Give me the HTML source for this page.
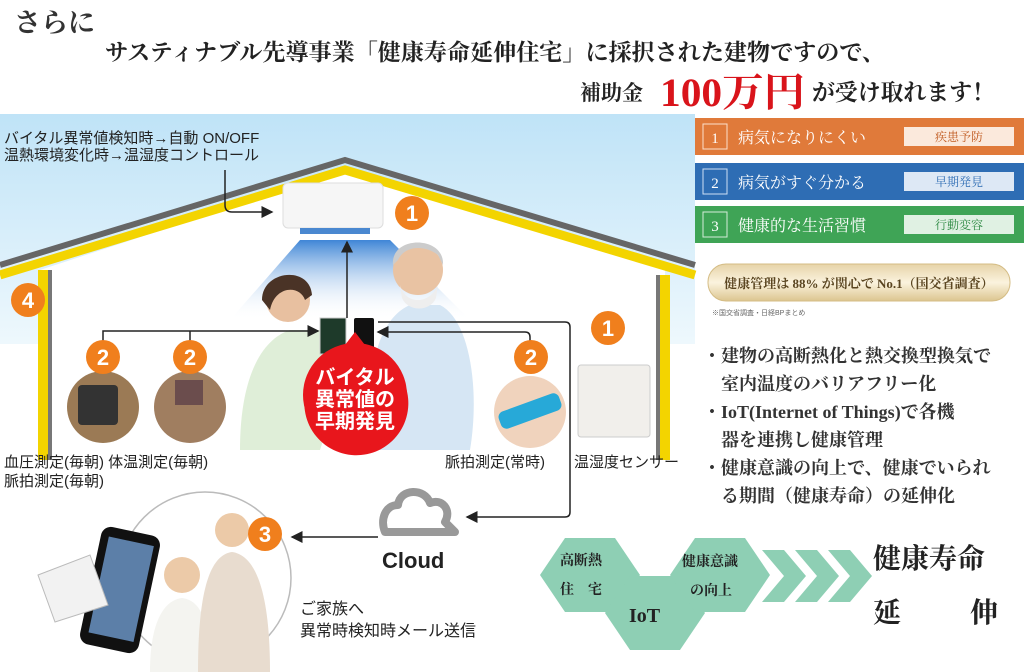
<!DOCTYPE html>
<html><head><meta charset="utf-8"><style>
html,body{margin:0;padding:0;background:#fff;}
svg{display:block;}
.s{font-family:"Liberation Serif","Noto Serif CJK SC",serif;font-weight:bold;}
.g{font-family:"Liberation Sans","Noto Sans CJK JP",sans-serif;}
</style></head><body>
<svg width="1024" height="672" viewBox="0 0 1024 672" xmlns="http://www.w3.org/2000/svg">
<defs>
<linearGradient id="sky" x1="0" y1="0" x2="0" y2="1">
<stop offset="0" stop-color="#bfe3f7"/><stop offset="1" stop-color="#eef8fd"/>
</linearGradient>
<linearGradient id="air" x1="0" y1="0" x2="0" y2="1">
<stop offset="0" stop-color="#3f86d6"/><stop offset="1" stop-color="#ffffff" stop-opacity="0"/>
</linearGradient>
<linearGradient id="gold" x1="0" y1="0" x2="0" y2="1">
<stop offset="0" stop-color="#e6d3a8"/><stop offset=".5" stop-color="#fbf3de"/><stop offset="1" stop-color="#dcc590"/>
</linearGradient>
<marker id="ar" markerWidth="8" markerHeight="8" refX="7" refY="4" orient="auto"><path d="M0,0 L8,4 L0,8z" fill="#222"/></marker>
</defs>

<!-- header -->
<text x="14" y="32" class="s" font-size="27" fill="#333">さらに</text>
<text x="105" y="60" class="s" font-size="23" fill="#222" textLength="780" lengthAdjust="spacingAndGlyphs">サスティナブル先導事業「健康寿命延伸住宅」に採択された建物ですので、</text>
<text x="580" y="100" class="s" font-size="21" fill="#222">補助金</text>
<text x="660" y="106" class="s" font-size="40" fill="#d9141b" textLength="145" lengthAdjust="spacingAndGlyphs">100万円</text>
<text x="812" y="100" class="s" font-size="23" fill="#222" textLength="183" lengthAdjust="spacingAndGlyphs">が受け取れます！</text>

<!-- sky -->
<rect x="0" y="114" width="695" height="230" fill="url(#sky)"/>
<polygon points="40,270 345,170 665,270 665,470 40,470" fill="#fff"/>
<rect x="0" y="344" width="695" height="150" fill="#fff"/>
<polygon points="300,240 390,240 470,320 230,320" fill="url(#air)"/>
<!-- roof -->
<polyline points="0,268 345,163 695,268" fill="none" stroke="#f3d400" stroke-width="9" transform="translate(0,7)"/>
<polyline points="0,265 345,160 695,265" fill="none" stroke="#666" stroke-width="6"/>
<rect x="38" y="270" width="10" height="190" fill="#f3d400"/>
<rect x="48" y="270" width="4" height="190" fill="#777"/>
<rect x="660" y="275" width="10" height="185" fill="#f3d400"/>
<rect x="656" y="275" width="4" height="185" fill="#777"/>

<text x="4" y="143" class="g" font-size="15" fill="#222">バイタル異常値検知時→自動 ON/OFF</text>
<text x="4" y="160" class="g" font-size="15" fill="#222">温熱環境変化時→温湿度コントロール</text>
<path d="M225,170 V205 Q225,212 232,212 H272" fill="none" stroke="#222" stroke-width="1.5" marker-end="url(#ar)"/>

<rect x="283" y="183" width="100" height="45" rx="5" fill="#f6f6f6" stroke="#ddd"/>
<rect x="300" y="228" width="70" height="6" fill="#4a88d0"/>

<!-- people -->
<path d="M240,450 C240,380 260,340 290,330 L330,330 C340,360 330,420 320,450z" fill="#dfeed8"/>
<circle cx="288" cy="300" r="22" fill="#e8c0a0"/>
<path d="M262,300 C262,270 310,265 312,295 L305,300 C300,285 275,285 270,310z" fill="#4a3326"/>
<path d="M370,450 C365,380 375,320 410,305 L440,305 C470,320 480,390 470,450z" fill="#d6e6f4"/>
<circle cx="418" cy="270" r="25" fill="#e9c3a3"/>
<path d="M400,285 C405,305 430,305 438,285 L436,298 C430,312 408,312 402,298z" fill="#eee"/>
<path d="M393,265 C390,235 445,235 443,265 L438,255 C425,245 405,245 398,260z" fill="#ccc"/>
<rect x="320" y="318" width="26" height="36" fill="#1e3a2a" stroke="#ccc"/>
<rect x="354" y="318" width="20" height="38" rx="2" fill="#111"/>

<!-- connectors -->
<line x1="347" y1="318" x2="347" y2="242" stroke="#222" stroke-width="1.5" marker-end="url(#ar)"/>
<path d="M103,345 V331 H318" fill="none" stroke="#222" stroke-width="1.5" marker-end="url(#ar)"/>
<line x1="190" y1="331" x2="190" y2="345" stroke="#222" stroke-width="1.5"/>
<path d="M530,345 V337 Q530,332 525,332 H378" fill="none" stroke="#222" stroke-width="1.5" marker-end="url(#ar)"/>
<path d="M378,322 H565 Q570,322 570,327 V512 Q570,517 565,517 H467" fill="none" stroke="#222" stroke-width="1.5" marker-end="url(#ar)"/>
<line x1="378" y1="537" x2="292" y2="537" stroke="#222" stroke-width="1.5" marker-end="url(#ar)"/>

<!-- red bubble -->
<path d="M355,332 L345,345 Q300,365 305,395 A52,52 0 1 0 400,375 Q390,350 365,345z" fill="#e8161c"/>
<circle cx="355" cy="395" r="52" fill="#e8161c"/>
<text x="355" y="384" text-anchor="middle" class="g" font-weight="bold" font-size="20" fill="#fff">バイタル</text>
<text x="355" y="406" text-anchor="middle" class="g" font-weight="bold" font-size="20" fill="#fff">異常値の</text>
<text x="355" y="428" text-anchor="middle" class="g" font-weight="bold" font-size="20" fill="#fff">早期発見</text>

<circle cx="103" cy="407" r="36" fill="#9b7a55"/>
<rect x="78" y="385" width="40" height="40" rx="4" fill="#333"/>
<circle cx="190" cy="407" r="36" fill="#a07e60"/>
<rect x="175" y="380" width="28" height="25" fill="#6b4d4d"/>
<circle cx="530" cy="412" r="36" fill="#f0d3bd"/>
<rect x="498" y="402" width="64" height="18" rx="6" fill="#27a9d8" transform="rotate(-20 530 411)"/>
<rect x="578" y="365" width="72" height="72" rx="3" fill="#f1efeb" stroke="#ccc"/>

<g class="g" font-size="15" fill="#222">
<text x="4" y="467">血圧測定(毎朝) 体温測定(毎朝)</text>
<text x="4" y="486">脈拍測定(毎朝)</text>
<text x="445" y="467">脈拍測定(常時)</text>
<text x="574" y="467">温湿度センサー</text>
</g>

<!-- cloud -->
<path d="M385,532 H455 L445,522 C452,510 442,498 430,503 C425,488 400,488 398,505 C385,505 380,520 385,532z" fill="none" stroke="#999" stroke-width="8" stroke-linejoin="round"/>
<text x="382" y="568" class="g" font-weight="bold" font-size="22" fill="#222">Cloud</text>

<!-- family circle -->
<circle cx="205" cy="578" r="86" fill="#fff" stroke="#bbb" stroke-width="1.5"/>
<rect x="90" y="530" width="60" height="120" rx="10" fill="#111" transform="rotate(12 120 590)"/>
<rect x="98" y="540" width="46" height="98" fill="#5c7fa8" transform="rotate(12 120 590)"/>
<polygon points="38,575 90,555 108,605 55,622" fill="#f2f2f2" stroke="#bbb"/>
<circle cx="182" cy="575" r="18" fill="#eccaa8"/>
<path d="M150,672 C150,620 165,600 182,598 C200,600 210,620 212,672z" fill="#f4f4f0"/>
<circle cx="232" cy="530" r="17" fill="#eccaa8"/>
<path d="M198,672 C198,590 210,555 232,552 C255,555 270,590 270,672z" fill="#e8dccf"/>
<text x="300" y="614" class="g" font-size="16" fill="#222">ご家族へ</text>
<text x="300" y="636" class="g" font-size="16" fill="#222">異常時検知時メール送信</text>

<!-- orange badges -->
<g class="g" font-weight="bold" font-size="22" fill="#fff" text-anchor="middle">
<circle cx="412" cy="213" r="17" fill="#f07f1d"/><text x="412" y="221">1</text>
<circle cx="608" cy="328" r="17" fill="#f07f1d"/><text x="608" y="336">1</text>
<circle cx="28" cy="300" r="17" fill="#f07f1d"/><text x="28" y="308">4</text>
<circle cx="103" cy="357" r="17" fill="#f07f1d"/><text x="103" y="365">2</text>
<circle cx="190" cy="357" r="17" fill="#f07f1d"/><text x="190" y="365">2</text>
<circle cx="531" cy="357" r="17" fill="#f07f1d"/><text x="531" y="365">2</text>
<circle cx="265" cy="534" r="17" fill="#f07f1d"/><text x="265" y="542">3</text>
</g>

<!-- right panels -->
<rect x="695" y="118" width="329" height="37" fill="#e07a3a"/>
<rect x="703" y="124" width="24" height="25" fill="none" stroke="#fbe0cc"/>
<text x="715" y="143" text-anchor="middle" class="s" font-size="15" fill="#fff" style="font-weight:normal">1</text>
<text x="738" y="143" class="s" font-size="16" fill="#fff" style="font-weight:normal">病気になりにくい</text>
<rect x="904" y="127" width="110" height="19" fill="#fbe9dc"/>
<text x="959" y="141" text-anchor="middle" class="s" font-size="12" fill="#c05a20" style="font-weight:normal">疾患予防</text>

<rect x="695" y="163" width="329" height="37" fill="#2e6db4"/>
<rect x="703" y="169" width="24" height="25" fill="none" stroke="#cfe0f3"/>
<text x="715" y="188" text-anchor="middle" class="s" font-size="15" fill="#fff" style="font-weight:normal">2</text>
<text x="738" y="188" class="s" font-size="16" fill="#fff" style="font-weight:normal">病気がすぐ分かる</text>
<rect x="904" y="172" width="110" height="19" fill="#dde8f5"/>
<text x="959" y="186" text-anchor="middle" class="s" font-size="12" fill="#2e6db4" style="font-weight:normal">早期発見</text>

<rect x="695" y="206" width="329" height="37" fill="#3fa456"/>
<rect x="703" y="212" width="24" height="25" fill="none" stroke="#d5ecd9"/>
<text x="715" y="231" text-anchor="middle" class="s" font-size="15" fill="#fff" style="font-weight:normal">3</text>
<text x="738" y="231" class="s" font-size="16" fill="#fff" style="font-weight:normal">健康的な生活習慣</text>
<rect x="904" y="215" width="110" height="19" fill="#e0f1e3"/>
<text x="959" y="229" text-anchor="middle" class="s" font-size="12" fill="#2f8a44" style="font-weight:normal">行動変容</text>

<rect x="708" y="264" width="302" height="37" rx="18" fill="url(#gold)" stroke="#d4bc84"/>
<text x="859" y="288" text-anchor="middle" class="s" font-size="13" fill="#5a4520">健康管理は 88% が関心で No.1（国交省調査）</text>
<text x="712" y="315" class="g" font-size="7" fill="#666">※国交省調査・日経BPまとめ</text>

<g class="s" font-size="18" fill="#333">
<text x="703" y="362">・建物の高断熱化と熱交換型換気で</text>
<text x="721" y="390">室内温度のバリアフリー化</text>
<text x="703" y="418">・IoT(Internet of Things)で各機</text>
<text x="721" y="446">器を連携し健康管理</text>
<text x="703" y="474">・健康意識の向上で、健康でいられ</text>
<text x="721" y="502">る期間（健康寿命）の延伸化</text>
</g>

<!-- hexagons -->
<g fill="#8ecfb4">
<polygon points="540,575 565,538 615,538 640,575 615,612 565,612"/>
<polygon points="605,613 630,576 680,576 705,613 680,650 630,650"/>
<polygon points="670,575 695,538 745,538 770,575 745,612 695,612"/>
<polygon points="762,550 784,550 806,576 784,602 762,602 784,576"/>
<polygon points="795,550 817,550 839,576 817,602 795,602 817,576"/>
<polygon points="828,550 850,550 872,576 850,602 828,602 850,576"/>
</g>
<g class="s" fill="#222">
<text x="560" y="565" font-size="14">高断熱</text>
<text x="560" y="594" font-size="14">住　宅</text>
<text x="629" y="622" font-size="20">IoT</text>
<text x="682" y="566" font-size="14">健康意識</text>
<text x="690" y="595" font-size="14">の向上</text>
<text x="873" y="568" font-size="28">健康寿命</text>
<text x="873" y="622" font-size="28">延</text>
<text x="970" y="622" font-size="28">伸</text>
</g>
</svg>
</body></html>
